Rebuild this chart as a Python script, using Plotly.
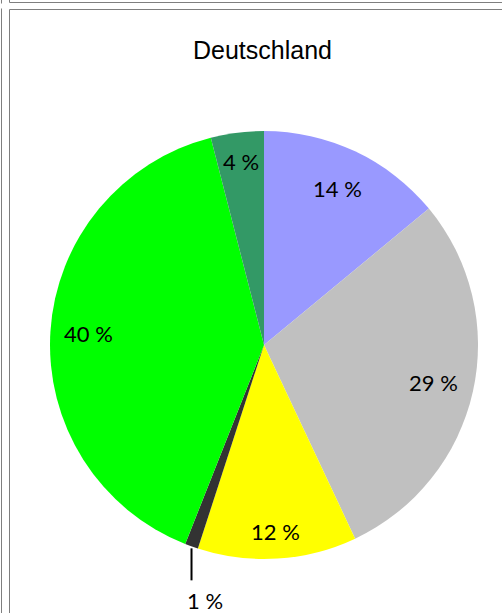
import math
import plotly.graph_objects as go

# ---- data ----
categories = ["Kategorie 1", "Kategorie 2", "Kategorie 3", "Kategorie 4", "Kategorie 5", "Kategorie 6"]
values = [14, 29, 12, 1, 40, 4]
labels = ["14 %", "29 %", "12 %", "1 %", "40 %", "4 %"]
colors = ["#9999FF", "#C0C0C0", "#FFFF00", "#333333", "#00FF00", "#339966"]
title_text = "Deutschland"

# ---- layout constants (pixels) ----
W, H = 502, 613
CX, CY, R = 264, 345, 214
label_r = [0.81, 0.81, 0.875, None, 0.82, 0.865]


def px(x):
    return x / W


def py(y):
    return 1 - y / H


fig = go.Figure()
fig.add_trace(go.Pie(
    labels=categories,
    values=values,
    sort=False,
    direction="clockwise",
    rotation=0,
    textinfo="none",
    hoverinfo="label+percent",
    marker=dict(colors=colors, line=dict(width=0)),
    showlegend=False,
    domain=dict(x=[px(CX - R), px(CX + R)], y=[py(CY + R), py(CY - R)]),
))

annotations = []
shapes = []
total = sum(values)
cum = 0
for i, v in enumerate(values):
    mid = (cum + v / 2) / total * 2 * math.pi
    cum += v
    if label_r[i] is not None:
        rr = label_r[i] * R
        x = CX + rr * math.sin(mid)
        y = CY - rr * math.cos(mid)
        annotations.append(dict(
            x=px(x), y=py(y), xref="paper", yref="paper",
            text=labels[i], showarrow=False, xanchor="center", yanchor="middle",
            font=dict(family="Lato", size=22, color="#000000"),
        ))
    else:
        # outside label with leader line
        x0 = CX + R * math.sin(mid)
        y0 = CY - R * math.cos(mid)
        shapes.append(dict(type="line", xref="paper", yref="paper",
                           x0=px(x0), x1=px(x0), y0=py(y0 + 2), y1=py(y0 + 34),
                           line=dict(color="#000000", width=2)))
        annotations.append(dict(
            x=px(x0 + 13), y=py(y0 + 54), xref="paper", yref="paper",
            text=labels[i], showarrow=False, xanchor="center", yanchor="middle",
            font=dict(family="Lato", size=22, color="#000000"),
        ))

annotations.append(dict(
    x=px(262), y=py(50), xref="paper", yref="paper",
    text=title_text, showarrow=False, xanchor="center", yanchor="middle",
    font=dict(family="Liberation Sans, Arial", size=25, color="#000000"),
))

frame = "#7f7f7f"
frame_lines = [
    (1.5, 0, 1.5, 3.5), (1.5, 8.5, 1.5, 613),
    (9.5, 2.5, 502, 2.5), (9.5, 0, 9.5, 2.5),
    (9.5, 9.5, 502, 9.5), (9.5, 9.5, 9.5, 613),
]
for (a, b, c, d) in frame_lines:
    shapes.append(dict(type="line", xref="paper", yref="paper",
                       x0=px(a), y0=py(b), x1=px(c), y1=py(d),
                       line=dict(color=frame, width=1)))

fig.update_layout(
    width=W, height=H,
    margin=dict(l=0, r=0, t=0, b=0),
    paper_bgcolor="#FFFFFF",
    plot_bgcolor="#FFFFFF",
    annotations=annotations,
    shapes=shapes,
)

fig.write_html("out.html", config={"displayModeBar": False},
               post_script="document.body.style.margin='0';document.body.style.overflow='hidden';")
